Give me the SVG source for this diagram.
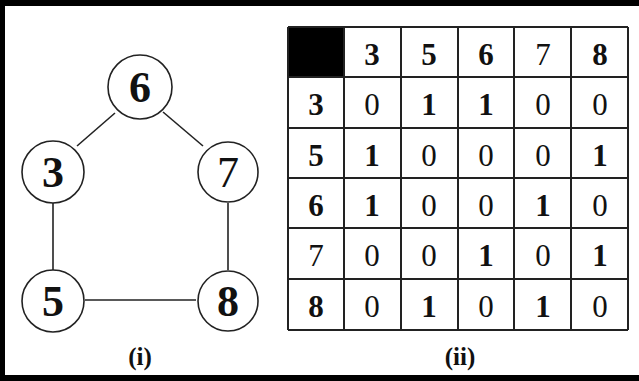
<svg xmlns="http://www.w3.org/2000/svg" width="639" height="381" viewBox="0 0 639 381">
<style>
.n{fill:#fff;stroke:#222;stroke-width:1.6}
.e{stroke:#222;stroke-width:1.6;fill:none}
.g{font-family:"Liberation Serif","Times New Roman",serif;font-size:44px;font-weight:bold;text-anchor:middle;fill:#111}
.t{font-family:"Liberation Serif","Times New Roman",serif;font-size:31px;text-anchor:middle;fill:#111}
.b{font-weight:bold}
.c{font-family:"Liberation Serif","Times New Roman",serif;font-size:25px;font-weight:bold;text-anchor:middle;fill:#111}
.grid{stroke:#222;stroke-width:2;fill:none}
</style>
<rect x="0" y="0" width="639" height="381" fill="#fff"/>
<rect x="0" y="0" width="639" height="6" fill="#000"/>
<rect x="0" y="0" width="5" height="381" fill="#000"/>
<rect x="0" y="375" width="639" height="6" fill="#000"/>
<g id="connectors">
<line class="e" x1="115" y1="113" x2="77" y2="146"/>
<line class="e" x1="163" y1="112" x2="203" y2="146"/>
<line class="e" x1="53" y1="203" x2="53" y2="270"/>
<line class="e" x1="228" y1="203" x2="228" y2="270"/>
<line class="e" x1="85" y1="300" x2="196" y2="300"/>
</g>
<g id="node6"><circle class="n" cx="140" cy="87" r="32"/><text class="g" x="140" y="102">6</text></g>
<g id="node3"><circle class="n" cx="53" cy="172" r="31"/><text class="g" x="53" y="187">3</text></g>
<g id="node7"><circle class="n" cx="228" cy="172" r="30"/><text class="g" x="228" y="187" style="font-weight:normal">7</text></g>
<g id="node5"><circle class="n" cx="53" cy="301" r="31"/><text class="g" x="53" y="316">5</text></g>
<g id="node8"><circle class="n" cx="228" cy="301" r="30"/><text class="g" x="228" y="316">8</text></g>
<text class="c" x="140" y="365">(i)</text>
<g id="table">
<rect x="288" y="27" width="56" height="50" fill="#000"/>
<path class="grid" d="M288 27H628M288 77H628M288 128H628M288 178H628M288 228H628M288 279H628M288 330H628M288 27V330M344 27V330M401 27V330M458 27V330M514 27V330M571 27V330M628 27V330"/>
<g class="t">
<text x="372" y="65" class="b">3</text><text x="429" y="65" class="b">5</text><text x="486" y="65" class="b">6</text><text x="543" y="65">7</text><text x="600" y="65" class="b">8</text>
<text x="316" y="115" class="b">3</text><text x="372" y="115">0</text><text x="429" y="115" class="b">1</text><text x="486" y="115" class="b">1</text><text x="543" y="115">0</text><text x="600" y="115">0</text>
<text x="316" y="166" class="b">5</text><text x="372" y="166" class="b">1</text><text x="429" y="166">0</text><text x="486" y="166">0</text><text x="543" y="166">0</text><text x="600" y="166" class="b">1</text>
<text x="316" y="216" class="b">6</text><text x="372" y="216" class="b">1</text><text x="429" y="216">0</text><text x="486" y="216">0</text><text x="543" y="216" class="b">1</text><text x="600" y="216">0</text>
<text x="316" y="266">7</text><text x="372" y="266">0</text><text x="429" y="266">0</text><text x="486" y="266" class="b">1</text><text x="543" y="266">0</text><text x="600" y="266" class="b">1</text>
<text x="316" y="317" class="b">8</text><text x="372" y="317">0</text><text x="429" y="317" class="b">1</text><text x="486" y="317">0</text><text x="543" y="317" class="b">1</text><text x="600" y="317">0</text>
</g>
</g>
<text class="c" x="460" y="365">(ii)</text>
</svg>
